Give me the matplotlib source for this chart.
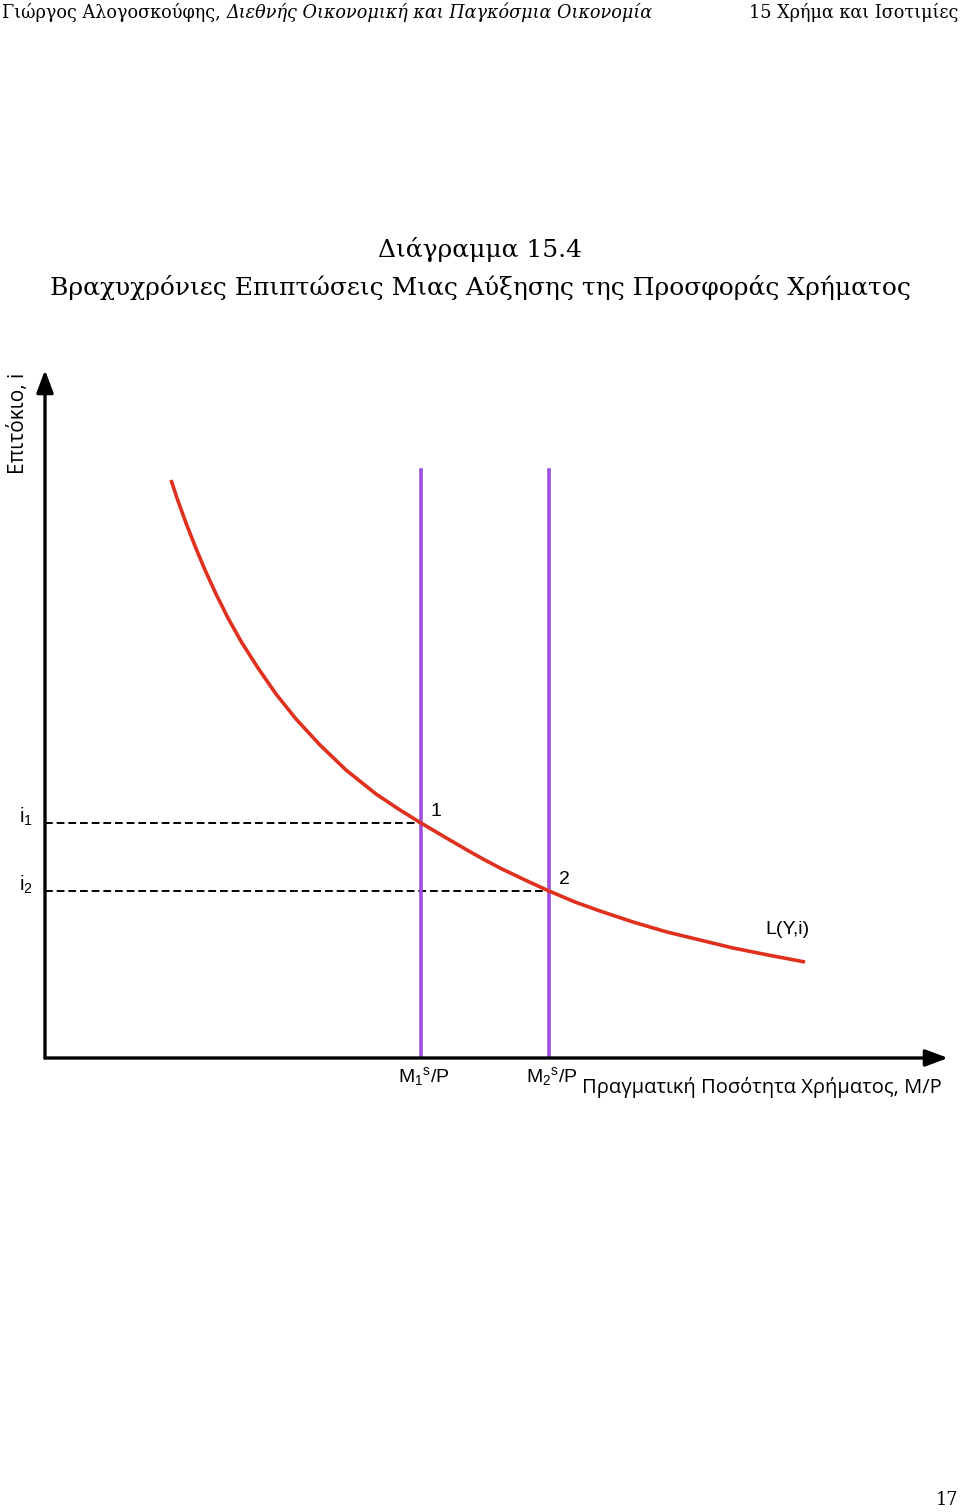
import matplotlib
matplotlib.use("Agg")
import matplotlib.pyplot as plt

plt.rcParams["mathtext.fontset"] = "custom"
plt.rcParams["mathtext.rm"] = "Liberation Sans"
plt.rcParams["mathtext.it"] = "Liberation Sans"
plt.rcParams["mathtext.bf"] = "Liberation Sans"

# Καμπύλη ζήτησης χρήματος L(Y,i) (μονάδες διαγράμματος)
money_x = [126, 133, 141, 150, 160, 171, 183, 197, 213, 231, 251, 275,
           301, 331, 355, 376, 398, 422, 438, 455, 480, 504, 530, 555,
           588, 622, 655, 688, 723, 760]
rate_y = [578, 557, 535, 512, 488, 464, 440, 415, 390, 364, 339, 313,
          288, 264, 248, 235, 222, 208, 199, 190, 178, 167, 156, 147,
          136, 126, 118, 110, 103, 96]

# Προσφορά χρήματος και επιτόκια ισορροπίας
supply_x = [376, 504]
supply_top = 588
equil_i = [235, 167]
supply_labels = [r"M$_1$$^{\rm s}$/P", r"M$_2$$^{\rm s}$/P"]
rate_labels = [r"i$_1$", r"i$_2$"]
point_labels = ["1", "2"]

X_MAX, Y_MAX = 903, 688
RED = "#e0301e"
PURPLE = "#9d4fdc"
SERIF = "DejaVu Serif"
SANS = "Liberation Sans"

W, H = 960, 1512
fig = plt.figure(figsize=(W / 100, H / 100), dpi=100)

# Κεφαλίδα σελίδας
renderer = fig.canvas.get_renderer()
t1 = fig.text(2 / W, 1 - 12 / H, "Γιώργος Αλογοσκούφης, ", family=SERIF,
              fontsize=12.7, va="center", ha="left")
bb = t1.get_window_extent(renderer=renderer)
fig.text(bb.x1 / W, 1 - 12 / H, "Διεθνής Οικονομική και Παγκόσμια Οικονομία",
         family=SERIF, style="italic", fontsize=12.7, va="center", ha="left")
fig.text(958 / W, 1 - 12 / H, "15 Χρήμα και Ισοτιμίες", family=SERIF,
         fontsize=12.7, va="center", ha="right")
fig.text(958 / W, 1 - 1500 / H, "17", family=SERIF, fontsize=12.7,
         va="center", ha="right")

# Τίτλος
fig.text(0.5, 1 - 250 / H, "Διάγραμμα 15.4", family=SERIF, fontsize=18,
         va="center", ha="center")
fig.text(0.5, 1 - 288 / H,
         "Βραχυχρόνιες Επιπτώσεις Μιας Αύξησης της Προσφοράς Χρήματος",
         family=SERIF, fontsize=18, va="center", ha="center")

ax = fig.add_axes([45 / W, (H - 1058) / H, X_MAX / W, Y_MAX / H])
ax.set_xlim(0, X_MAX)
ax.set_ylim(0, Y_MAX)
ax.axis("off")

# Άξονες με βέλη
arrow = dict(arrowstyle="-|>,head_length=0.8,head_width=0.3", color="black",
             lw=2.4, mutation_scale=17, shrinkA=0, shrinkB=0)
ax.annotate("", xy=(X_MAX, 0), xytext=(0, 0), arrowprops=arrow,
            annotation_clip=False)
ax.annotate("", xy=(0, Y_MAX), xytext=(0, 0), arrowprops=arrow,
            annotation_clip=False)

for xs, yi in zip(supply_x, equil_i):
    ax.plot([0, xs], [yi, yi], color="black", lw=1.4, ls=(0, (4, 2)))
for xs in supply_x:
    ax.plot([xs, xs], [0, supply_top], color=PURPLE, lw=2.6)
ax.plot(money_x, rate_y, color=RED, lw=2.6, solid_joinstyle="round",
        solid_capstyle="butt")

for xs, yi, pl, sl in zip(supply_x, equil_i, point_labels, supply_labels):
    ax.text(xs + 15, yi + 11, pl, family=SANS, fontsize=14, ha="center",
            va="center")
    ax.text(xs + 3, -19, sl, family=SANS, fontsize=14, ha="center",
            va="center")
for yi, rl in zip(equil_i, rate_labels):
    ax.text(-19, yi + 6, rl, family=SANS, fontsize=14.5, ha="center",
            va="center")

ax.text(742, 128, "L(Y,i)", family=SANS, fontsize=14, ha="center",
        va="center")
ax.text(717, -29, "Πραγματική Ποσότητα Χρήματος, Μ/Ρ", family="Open Sans",
        fontsize=14.5, ha="center", va="center")
ax.text(-26, 635, "Επιτόκιο, i", family="Open Sans", fontsize=15,
        rotation=90, ha="center", va="center")

fig.savefig("out.png", dpi=100)
